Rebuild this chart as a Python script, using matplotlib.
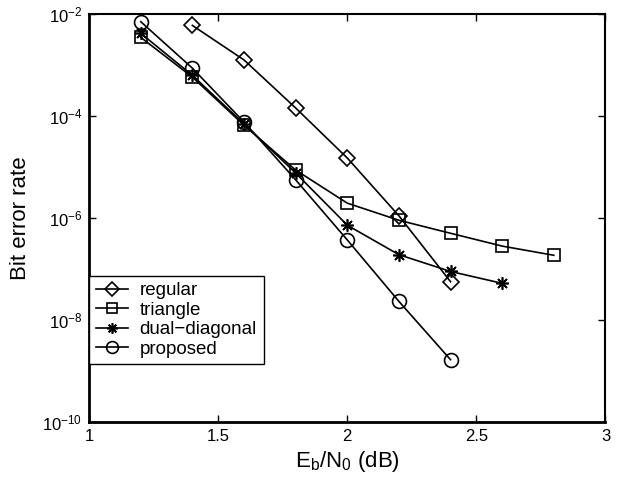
import matplotlib
matplotlib.use("Agg")
import matplotlib.pyplot as plt
from matplotlib.ticker import FixedLocator, NullLocator

plt.rcParams['font.family'] = ['Liberation Sans', 'DejaVu Sans']
plt.rcParams['mathtext.fontset'] = 'custom'
plt.rcParams['mathtext.rm'] = 'Liberation Sans'
plt.rcParams['mathtext.it'] = 'Liberation Sans'

x_regular = [1.4, 1.6, 1.8, 2.0, 2.2, 2.4]
y_regular = [6.0e-3, 1.26e-3, 1.44e-4, 1.5e-5, 1.1e-6, 5.6e-8]

x_triangle = [1.2, 1.4, 1.6, 1.8, 2.0, 2.2, 2.4, 2.6, 2.8]
y_triangle = [3.5e-3, 5.8e-4, 6.6e-5, 8.7e-6, 1.95e-6, 9.0e-7, 5.0e-7, 2.8e-7, 1.85e-7]

x_dual = [1.2, 1.4, 1.6, 1.8, 2.0, 2.2, 2.4, 2.6]
y_dual = [4.2e-3, 6.3e-4, 7.0e-5, 7.6e-6, 7.2e-7, 1.9e-7, 8.9e-8, 5.2e-8]

x_prop = [1.2, 1.4, 1.6, 1.8, 2.0, 2.2, 2.4]
y_prop = [7.1e-3, 8.7e-4, 7.6e-5, 5.6e-6, 3.7e-7, 2.3e-8, 1.65e-9]

labels = ['regular', 'triangle', 'dual\u2212diagonal', 'proposed']
x_ticks = [1, 1.5, 2, 2.5, 3]
x_tick_labels = ['1', '1.5', '2', '2.5', '3']

fig = plt.figure(figsize=(6.32, 4.87), dpi=100)
ax = fig.add_axes([0.141, 0.134, 0.817, 0.837])

lw = 1.2
mk = dict(color='black', linewidth=lw, markerfacecolor='none', markeredgecolor='black', markeredgewidth=1.2)
ax.plot(x_regular, y_regular, marker='D', markersize=8, label=labels[0], **mk)
ax.plot(x_triangle, y_triangle, marker='s', markersize=8, label=labels[1], **mk)
ax.plot(x_dual, y_dual, marker=(8, 2, 0), markersize=9, label=labels[2], **mk)
ax.plot(x_prop, y_prop, marker='o', markersize=10, label=labels[3], **mk)

ax.set_yscale('log')
ax.set_xlim(1, 3)
ax.set_ylim(1e-10, 1e-2)
ax.xaxis.set_major_locator(FixedLocator(x_ticks))
ax.set_xticklabels(x_tick_labels)
ax.yaxis.set_major_locator(FixedLocator([1e-10, 1e-8, 1e-6, 1e-4, 1e-2]))
ax.yaxis.set_minor_locator(NullLocator())
ax.tick_params(direction='in', top=True, right=True, length=5, width=1, labelsize=12, pad=5)
for s in ['left', 'bottom']:
    ax.spines[s].set_linewidth(2.0)
for s in ['top', 'right']:
    ax.spines[s].set_linewidth(1.5)

ax.set_xlabel(r'E$_\mathrm{b}$/N$_\mathrm{0}$ (dB)', fontsize=16, labelpad=4)
ax.set_ylabel('Bit error rate', fontsize=16, labelpad=8)

leg = ax.legend(loc='lower left', bbox_to_anchor=(0.0, 0.1415), fontsize=13.5,
                frameon=True, fancybox=False, edgecolor='black', framealpha=1,
                borderpad=0.35, labelspacing=0.12, handlelength=1.75, handletextpad=0.6,
                borderaxespad=0.0, markerscale=0.85)
leg.get_frame().set_linewidth(1.0)

fig.savefig('out.png', dpi=100)
